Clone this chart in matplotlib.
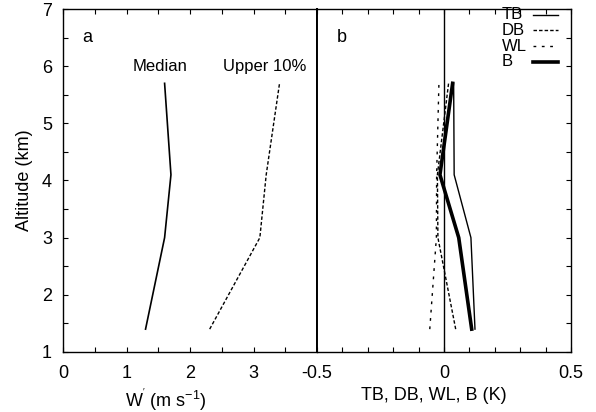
import matplotlib
matplotlib.use("Agg")
import matplotlib.pyplot as plt
from matplotlib.lines import Line2D
import numpy as np

plt.rcParams['font.family'] = ['Liberation Sans', 'DejaVu Sans']
plt.rcParams['mathtext.default'] = 'regular'

# altitudes (km)
alt = [1.4, 3.0, 4.1, 5.7]

# panel a: W' (m s-1)
median = [1.3, 1.6, 1.7, 1.6]
upper10 = [2.31, 3.1, 3.2, 3.41]

# panel b: buoyancy terms (K)
tb = [0.122, 0.106, 0.04, 0.038]
db = [0.046, -0.024, -0.026, 0.018]
wl = [-0.056, -0.03, -0.029, -0.02]
b = [0.109, 0.058, -0.016, 0.034]

labels = ['TB', 'DB', 'WL', 'B']

fig = plt.figure(figsize=(5.96, 4.12), dpi=100)
W, H = 596, 412
x0, x1, x2 = 63, 317, 571
ytop, ybot = 9, 352
axa = fig.add_axes([x0 / W, 1 - ybot / H, (x1 - x0) / W, (ybot - ytop) / H])
axb = fig.add_axes([x1 / W, 1 - ybot / H, (x2 - x1) / W, (ybot - ytop) / H])

fs = 13
# panel a
axa.plot(median, alt, color='black', lw=1.2)
axa.plot(upper10, alt, color='black', lw=1.0, ls=(0, (2.5, 1.5)))
axa.set_xlim(0, 4)
axa.set_ylim(1, 7)
axa.set_xticks([0, 1, 2, 3])
axa.set_xticks(np.arange(0, 4.01, 0.5), minor=True)
axa.set_yticks(np.arange(1, 8, 1))
axa.set_yticks(np.arange(1, 7.01, 0.5), minor=True)
axa.tick_params(which='both', direction='in', top=True, right=False, labelsize=fs, length=3.8, width=0.8)
axa.tick_params(axis='x', pad=9)
axa.tick_params(axis='y', pad=8)
axa.set_ylabel('Altitude (km)', fontsize=fs, labelpad=6)
axa.set_xlabel("W$^{'}$ (m s$^{-1}$)", fontsize=fs, labelpad=4)
axa.xaxis.label.set_x(0.405)
axa.text(0.38, 6.5, 'a', fontsize=fs, va='center', ha='center')
axa.text(1.53, 5.99, 'Median', fontsize=12, va='center', ha='center')
axa.text(3.17, 5.99, 'Upper 10%', fontsize=12, va='center', ha='center')

# panel b
styles = [dict(lw=1.0, ls='-'),
          dict(lw=1.0, ls=(0, (2.5, 1.5))),
          dict(lw=1.0, ls=(0, (2, 4))),
          dict(lw=2.6, ls='-')]
for vals, st in zip([tb, db, wl, b], styles):
    axb.plot(vals, alt, color='black', **st)
axb.axvline(0, color='black', lw=1.0)
axb.set_xlim(-0.5, 0.5)
axb.set_ylim(1, 7)
axb.set_xticks([-0.5, 0, 0.5])
axb.set_xticklabels(['-0.5', '0', '0.5'])
axb.set_xticks(np.arange(-0.5, 0.501, 0.1), minor=True)
axb.set_yticks(np.arange(1, 7.01, 0.5))
axb.tick_params(which='both', direction='in', top=True, left=False, right=True,
                labelleft=False, labelsize=fs, length=3.8, width=0.8)
axb.tick_params(axis='x', pad=9)
axb.set_xlabel('TB, DB, WL, B (K)', fontsize=fs, labelpad=4)
axb.xaxis.label.set_x(0.459)
axb.text(-0.403, 6.5, 'b', fontsize=fs, va='center', ha='center')

# key, left-aligned labels with line samples to the right
for i, (lab, st) in enumerate(zip(labels, styles)):
    yk = 0.983 - 0.0455 * i
    axb.text(0.728, yk, lab, transform=axb.transAxes, fontsize=12, va='center', ha='left')
    axb.add_line(Line2D([0.85, 0.949], [yk, yk], transform=axb.transAxes, color='black', **st))

for ax in (axa, axb):
    for s in ax.spines.values():
        s.set_linewidth(1.0)
axa.spines['right'].set_linewidth(1.4)
axb.spines['left'].set_linewidth(1.4)

fig.savefig('out.png', dpi=100)
